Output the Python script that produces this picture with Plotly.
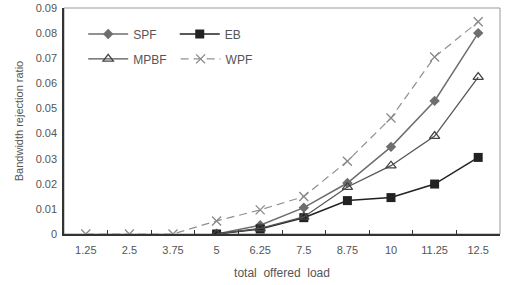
import plotly.graph_objects as go

categories = ["1.25", "2.5", "3.75", "5", "6.25", "7.5", "8.75", "10", "11.25", "12.5"]
spf = [None, None, None, 0.0, 0.0035, 0.0105, 0.0203, 0.0347, 0.0530, 0.0800]
eb = [None, None, None, 0.0, 0.0020, 0.0065, 0.0133, 0.0145, 0.0199, 0.0305]
mpbf = [None, None, None, 0.0, 0.0022, 0.0068, 0.0187, 0.0272, 0.0390, 0.0625]
wpf = [0.0, 0.0, 0.0, 0.0052, 0.0096, 0.0149, 0.0290, 0.0462, 0.0705, 0.0845]
yticks = [0, 0.01, 0.02, 0.03, 0.04, 0.05, 0.06, 0.07, 0.08, 0.09]
ylabels = ["0", "0.01", "0.02", "0.03", "0.04", "0.05", "0.06", "0.07", "0.08", "0.09"]

FONT = "Liberation Sans, Arial, sans-serif"
fig = go.Figure()
fig.add_trace(go.Scatter(x=categories, y=spf, name="SPF", mode="lines+markers",
                         line=dict(color="#6e6e6e", width=1.5),
                         marker=dict(symbol="diamond", size=8, color="#6e6e6e"),
                         legend="legend", showlegend=True))
fig.add_trace(go.Scatter(x=categories, y=eb, name="EB", mode="lines+markers",
                         line=dict(color="#222222", width=1.5),
                         marker=dict(symbol="square", size=9, color="#222222"),
                         legend="legend2", showlegend=True))
fig.add_trace(go.Scatter(x=categories, y=mpbf, name="MPBF", mode="lines+markers",
                         line=dict(color="#555555", width=1.3),
                         marker=dict(symbol="triangle-up-open", size=9, color="#444444",
                                     line=dict(width=1.3)),
                         legend="legend3", showlegend=True))
fig.add_trace(go.Scatter(x=categories, y=wpf, name="WPF", mode="lines+markers",
                         line=dict(color="#909090", width=1.2, dash="8px,5px"),
                         marker=dict(symbol="x-thin-open", size=9, color="#888888",
                                     line=dict(width=1.3)),
                         legend="legend4", showlegend=True))

legend_common = dict(orientation="h", xanchor="left", yanchor="middle",
                     bgcolor="rgba(0,0,0,0)", font=dict(family=FONT, size=12, color="#555555"),
                     itemwidth=40, tracegroupgap=0)
fig.update_layout(
    width=506, height=285,
    showlegend=True,
    margin=dict(l=64, r=6, t=8, b=51, autoexpand=False),
    paper_bgcolor="white", plot_bgcolor="white",
    font=dict(family=FONT, size=11, color="#555555"),
    legend=dict(x=0.044, y=0.885, **legend_common),
    legend2=dict(x=0.254, y=0.885, **legend_common),
    legend3=dict(x=0.044, y=0.775, **legend_common),
    legend4=dict(x=0.256, y=0.775, **legend_common),
    xaxis=dict(type="category", range=[-0.5, 9.5], showgrid=False, zeroline=False,
               automargin=False,
               showline=True, linecolor="#333333", linewidth=1.5, mirror=False,
               ticks="inside", tickson="boundaries", ticklen=4, tickcolor="#333333",
               ticklabelstandoff=5,
               tickfont=dict(family=FONT, size=11, color="#555555"),
               title=dict(text="total  offered  load", font=dict(family=FONT, size=12, color="#555555"),
                          standoff=14)),
    yaxis=dict(range=[0, 0.09], tickvals=yticks, ticktext=ylabels, showgrid=False,
               automargin=False,
               zeroline=False, showline=True, linecolor="#333333", linewidth=1.5,
               ticks="", ticklabelstandoff=3, tickfont=dict(family=FONT, size=11, color="#555555"),
               title=dict(text="Bandwidth rejection ratio", font=dict(family=FONT, size=11, color="#555555"),
                          standoff=10)),
)
fig.add_shape(type="rect", xref="paper", yref="paper", x0=0, y0=0, x1=1, y1=1,
              line=dict(color="#999999", width=1), layer="below")
fig.write_html("out.html", config={"displayModeBar": False})
with open("out.html", encoding="utf-8") as f:
    html = f.read()
html = html.replace("<head>", "<head><style>html,body{margin:0;padding:0;}</style>", 1)
with open("out.html", "w", encoding="utf-8") as f:
    f.write(html)
